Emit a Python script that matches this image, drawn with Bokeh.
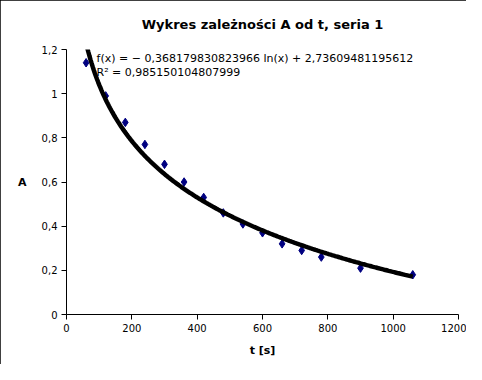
import numpy as np
from bokeh.plotting import figure
from bokeh.models import Range1d, FixedTicker, CustomJSTickFormatter, Label
from bokeh.embed import file_html
from bokeh.resources import INLINE

# ---- data ----
t_s = [60, 120, 180, 240, 300, 360, 420, 480, 540, 600, 660, 720, 780, 900, 1060]
A = [1.14, 0.99, 0.87, 0.77, 0.68, 0.60, 0.53, 0.46, 0.41, 0.37, 0.32, 0.29, 0.26, 0.21, 0.18]
fit_slope = -0.368179830823966
fit_intercept = 2.73609481195612
r_squared_text = "0,985150104807999"
slope_text = "0,368179830823966"
intercept_text = "2,73609481195612"
x_ticks = [0, 200, 400, 600, 800, 1000, 1200]
y_ticks = [0, 0.2, 0.4, 0.6, 0.8, 1.0, 1.2]

title_text = "Wykres zależności A od t, seria 1"
x_label = "t [s]"
y_label = "A"

FONT = "DejaVu Sans"

p = figure(width=466, height=364, output_backend="svg", toolbar_location=None,
           x_range=Range1d(0, 1200), y_range=Range1d(0, 1.2),
           min_border_left=66, min_border_right=8, min_border_top=49, min_border_bottom=50)
p.styles = {"outline": "1px solid black", "outline-offset": "-1px"}

p.title.text = title_text
p.title.align = "center"
p.title.vertical_align = "top"
p.title.text_font = FONT
p.title.text_font_size = "13px"
p.title.text_font_style = "bold"
p.title.text_color = "black"
p.title.standoff = 31

p.background_fill_color = "white"
p.border_fill_color = "white"
p.outline_line_color = None
p.xgrid.visible = False
p.ygrid.visible = False

fmt = CustomJSTickFormatter(code="""
const v = Math.round(tick * 10) / 10;
return v.toString().replace('.', ',');
""")

for ax in (p.xaxis[0], p.yaxis[0]):
    ax.axis_line_color = "black"
    ax.major_tick_line_color = "black"
    ax.major_tick_out = 5
    ax.major_tick_in = 0
    ax.minor_tick_line_color = None
    ax.major_label_text_font = FONT
    ax.major_label_text_font_size = "10px"
    ax.major_label_text_color = "black"
    ax.axis_label_text_font = FONT
    ax.axis_label_text_font_size = "11px"
    ax.axis_label_text_font_style = "bold"
    ax.axis_label_text_color = "black"
    ax.major_label_standoff = 4
    ax.formatter = fmt

p.xaxis[0].ticker = FixedTicker(ticks=x_ticks)
p.yaxis[0].ticker = FixedTicker(ticks=y_ticks)
p.xaxis[0].axis_label = x_label
p.yaxis[0].axis_label = y_label
p.xaxis[0].axis_label_standoff = 9
p.yaxis[0].axis_label_standoff = 12
p.yaxis[0].axis_label_orientation = "horizontal"

# trendline from the displayed logarithmic fit
t_fit = np.linspace(min(t_s), max(t_s), 300)
A_fit = fit_slope * np.log(t_fit) + fit_intercept

p.scatter(t_s, A, marker="diamond", size=8.5, fill_color="#000080", line_color="#000080")
p.line(t_fit, A_fit, line_color="black", line_width=4.5)

eq1 = Label(x=92, y=1.159, text=f"f(x) = − {slope_text} ln(x) + {intercept_text}",
            text_font=FONT, text_font_size="11px", text_baseline="middle", text_color="black")
eq2 = Label(x=92, y=1.096, text=f"R² = {r_squared_text}",
            text_font=FONT, text_font_size="11px", text_baseline="middle", text_color="black")
p.add_layout(eq1)
p.add_layout(eq2)

open("out.html", "w").write(file_html(p, INLINE))
